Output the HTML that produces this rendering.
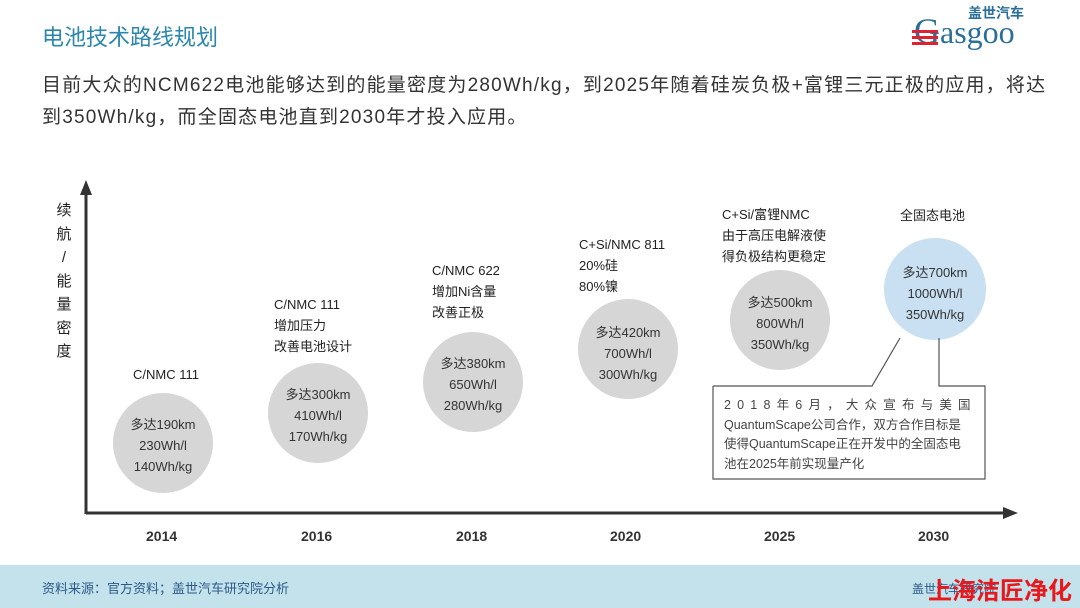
<!DOCTYPE html>
<html><head><meta charset="utf-8"><style>
body{margin:0;width:1080px;height:608px;background:#fff;position:relative;overflow:hidden;font-family:"Liberation Sans","Noto Sans CJK SC",sans-serif;}
.t{position:absolute;white-space:nowrap;}
</style></head><body>
<div class="t" style="left:42px;top:20px;font-size:22px;color:#2a86ad;">电池技术路线规划</div>
<div class="t" style="left:968px;top:3px;font-size:14px;font-weight:bold;color:#2a6f9a;">盖世汽车</div>
<div class="t" style="left:914px;top:10px;font-size:36px;color:#2a6f9a;font-family:'Liberation Serif',serif;">G<span style="font-size:32px">asgoo</span></div>
<div style="position:absolute;left:912px;top:30px;width:26px;height:3px;background:#d23;box-shadow:0 6px 0 #d23,0 12px 0 #d23"></div>
<div class="t" style="left:42px;top:70px;font-size:19px;color:#333;line-height:32px;letter-spacing:1.2px;">目前大众的NCM622电池能够达到的能量密度为280Wh/kg，到2025年随着硅炭负极+富锂三元正极的应用，将达<br>到350Wh/kg，而全固态电池直到2030年才投入应用。</div>
<svg width="1080" height="608" style="position:absolute;left:0;top:0">
<line x1="86" y1="192" x2="86" y2="514" stroke="#333" stroke-width="3"/>
<polygon points="86,180 80,195 92,195" fill="#333"/>
<line x1="86" y1="513" x2="1005" y2="513" stroke="#333" stroke-width="3"/>
<polygon points="1018,513 1003,507 1003,519" fill="#333"/>
<g fill="#d6d6d6">
<circle cx="163" cy="443" r="50"/><circle cx="318" cy="413" r="50"/><circle cx="473" cy="382" r="50"/>
<circle cx="628" cy="349" r="50"/><circle cx="780" cy="320" r="50"/></g>
<circle cx="935" cy="289" r="51" fill="#c9e0f2"/>
<polyline points="713,386 872,386 900,338" fill="none" stroke="#555" stroke-width="1.2"/>
<polyline points="939,338 939,386 985,386 985,479 713,479 713,386" fill="none" stroke="#555" stroke-width="1.2"/>
</svg>
<div class="t" style="left:56px;top:199px;font-size:15px;color:#222;line-height:23.5px;text-align:center;width:16px;white-space:normal;">续<br>航<br>/<br>能<br>量<br>密<br>度</div>
<div style="position:absolute;left:0;top:0;font-size:13px;color:#222;line-height:21px;">
<div class="t" style="left:133px;top:364px;">C/NMC 111</div>
<div class="t" style="left:274px;top:294px;">C/NMC 111<br>增加压力<br>改善电池设计</div>
<div class="t" style="left:432px;top:260px;">C/NMC 622<br>增加Ni含量<br>改善正极</div>
<div class="t" style="left:579px;top:234px;">C+Si/NMC 811<br>20%硅<br>80%镍</div>
<div class="t" style="left:722px;top:204px;">C+Si/富锂NMC<br>由于高压电解液使<br>得负极结构更稳定</div>
<div class="t" style="left:900px;top:205px;">全固态电池</div>
</div>
<div style="position:absolute;left:0;top:0;font-size:13px;color:#333;line-height:21px;text-align:center;">
<div class="t" style="left:113px;top:414px;width:100px;">多达190km<br>230Wh/l<br>140Wh/kg</div>
<div class="t" style="left:268px;top:384px;width:100px;">多达300km<br>410Wh/l<br>170Wh/kg</div>
<div class="t" style="left:423px;top:353px;width:100px;">多达380km<br>650Wh/l<br>280Wh/kg</div>
<div class="t" style="left:578px;top:322px;width:100px;">多达420km<br>700Wh/l<br>300Wh/kg</div>
<div class="t" style="left:730px;top:292px;width:100px;">多达500km<br>800Wh/l<br>350Wh/kg</div>
<div class="t" style="left:884px;top:262px;width:102px;">多达700km<br>1000Wh/l<br>350Wh/kg</div>
</div>
<div class="t" style="left:724px;top:396px;font-size:12.5px;color:#444;line-height:19.5px;"><span style="letter-spacing:6.2px">2018年6月，大众宣布与美国</span><br>QuantumScape公司合作，双方合作目标是<br>使得QuantumScape正在开发中的全固态电<br>池在2025年前实现量产化</div>
<div style="position:absolute;left:0;top:528px;font-size:14px;font-weight:bold;color:#333;">
<div class="t" style="left:146px;">2014</div><div class="t" style="left:301px;">2016</div><div class="t" style="left:456px;">2018</div>
<div class="t" style="left:610px;">2020</div><div class="t" style="left:764px;">2025</div><div class="t" style="left:918px;">2030</div></div>
<div style="position:absolute;left:0;top:565px;width:1080px;height:43px;background:#c4e2eb;"></div>
<div class="t" style="left:42px;top:578px;font-size:13px;color:#2a5a88;">资料来源：官方资料；盖世汽车研究院分析</div>
<div class="t" style="left:912px;top:580px;font-size:12px;color:#2a5a88;">盖世汽车研究院</div>
<div class="t" style="left:928px;top:571px;font-size:24px;font-weight:bold;color:#e8191c;">上海洁匠净化</div>
</body></html>
